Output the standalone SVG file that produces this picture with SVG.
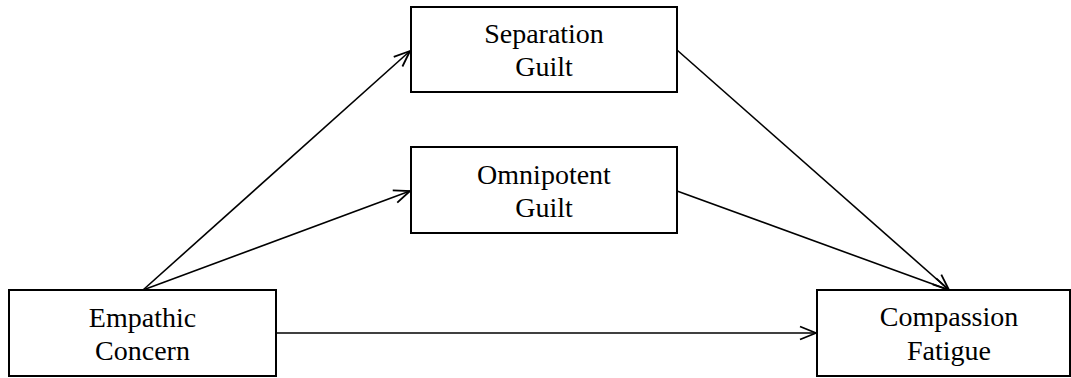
<svg xmlns="http://www.w3.org/2000/svg" width="1071" height="378" viewBox="0 0 1071 378">
<style>
.box{fill:#fff;stroke:#000;stroke-width:2}
.lbl{font-family:"Liberation Serif","Times New Roman",serif;font-size:28px;fill:#000;text-anchor:middle}
.conn{stroke:#000;stroke-width:1.6;fill:none}
</style>
<defs>
<marker id="arr" markerWidth="18" markerHeight="16" refX="17" refY="8" orient="auto" markerUnits="userSpaceOnUse">
<path d="M1,1.5 L17,8 L1,14.5" fill="none" stroke="#000" stroke-width="1.8"/>
</marker>
</defs>
<rect width="1071" height="378" fill="#fff"/>
<g id="connectors">
<line class="conn" x1="143" y1="290" x2="410" y2="51" marker-end="url(#arr)"/>
<line class="conn" x1="143" y1="290" x2="410" y2="191" marker-end="url(#arr)"/>
<line class="conn" x1="677" y1="50" x2="949" y2="290" marker-end="url(#arr)"/>
<line class="conn" x1="677" y1="191" x2="949" y2="290" marker-end="url(#arr)"/>
<line class="conn" x1="276" y1="333" x2="816" y2="333" marker-end="url(#arr)"/>
</g>
<g id="separation-guilt">
<rect class="box" x="411" y="7" width="266" height="85"/>
<text class="lbl" x="544" y="43">Separation</text>
<text class="lbl" x="544" y="76">Guilt</text>
</g>
<g id="omnipotent-guilt">
<rect class="box" x="411" y="147" width="266" height="86"/>
<text class="lbl" x="544" y="184">Omnipotent</text>
<text class="lbl" x="544" y="217">Guilt</text>
</g>
<g id="empathic-concern">
<rect class="box" x="9" y="290" width="267" height="86"/>
<text class="lbl" x="142.5" y="327">Empathic</text>
<text class="lbl" x="142.5" y="360">Concern</text>
</g>
<g id="compassion-fatigue">
<rect class="box" x="817" y="290" width="253" height="86"/>
<text class="lbl" x="949" y="326">Compassion</text>
<text class="lbl" x="949" y="360">Fatigue</text>
</g>
</svg>
